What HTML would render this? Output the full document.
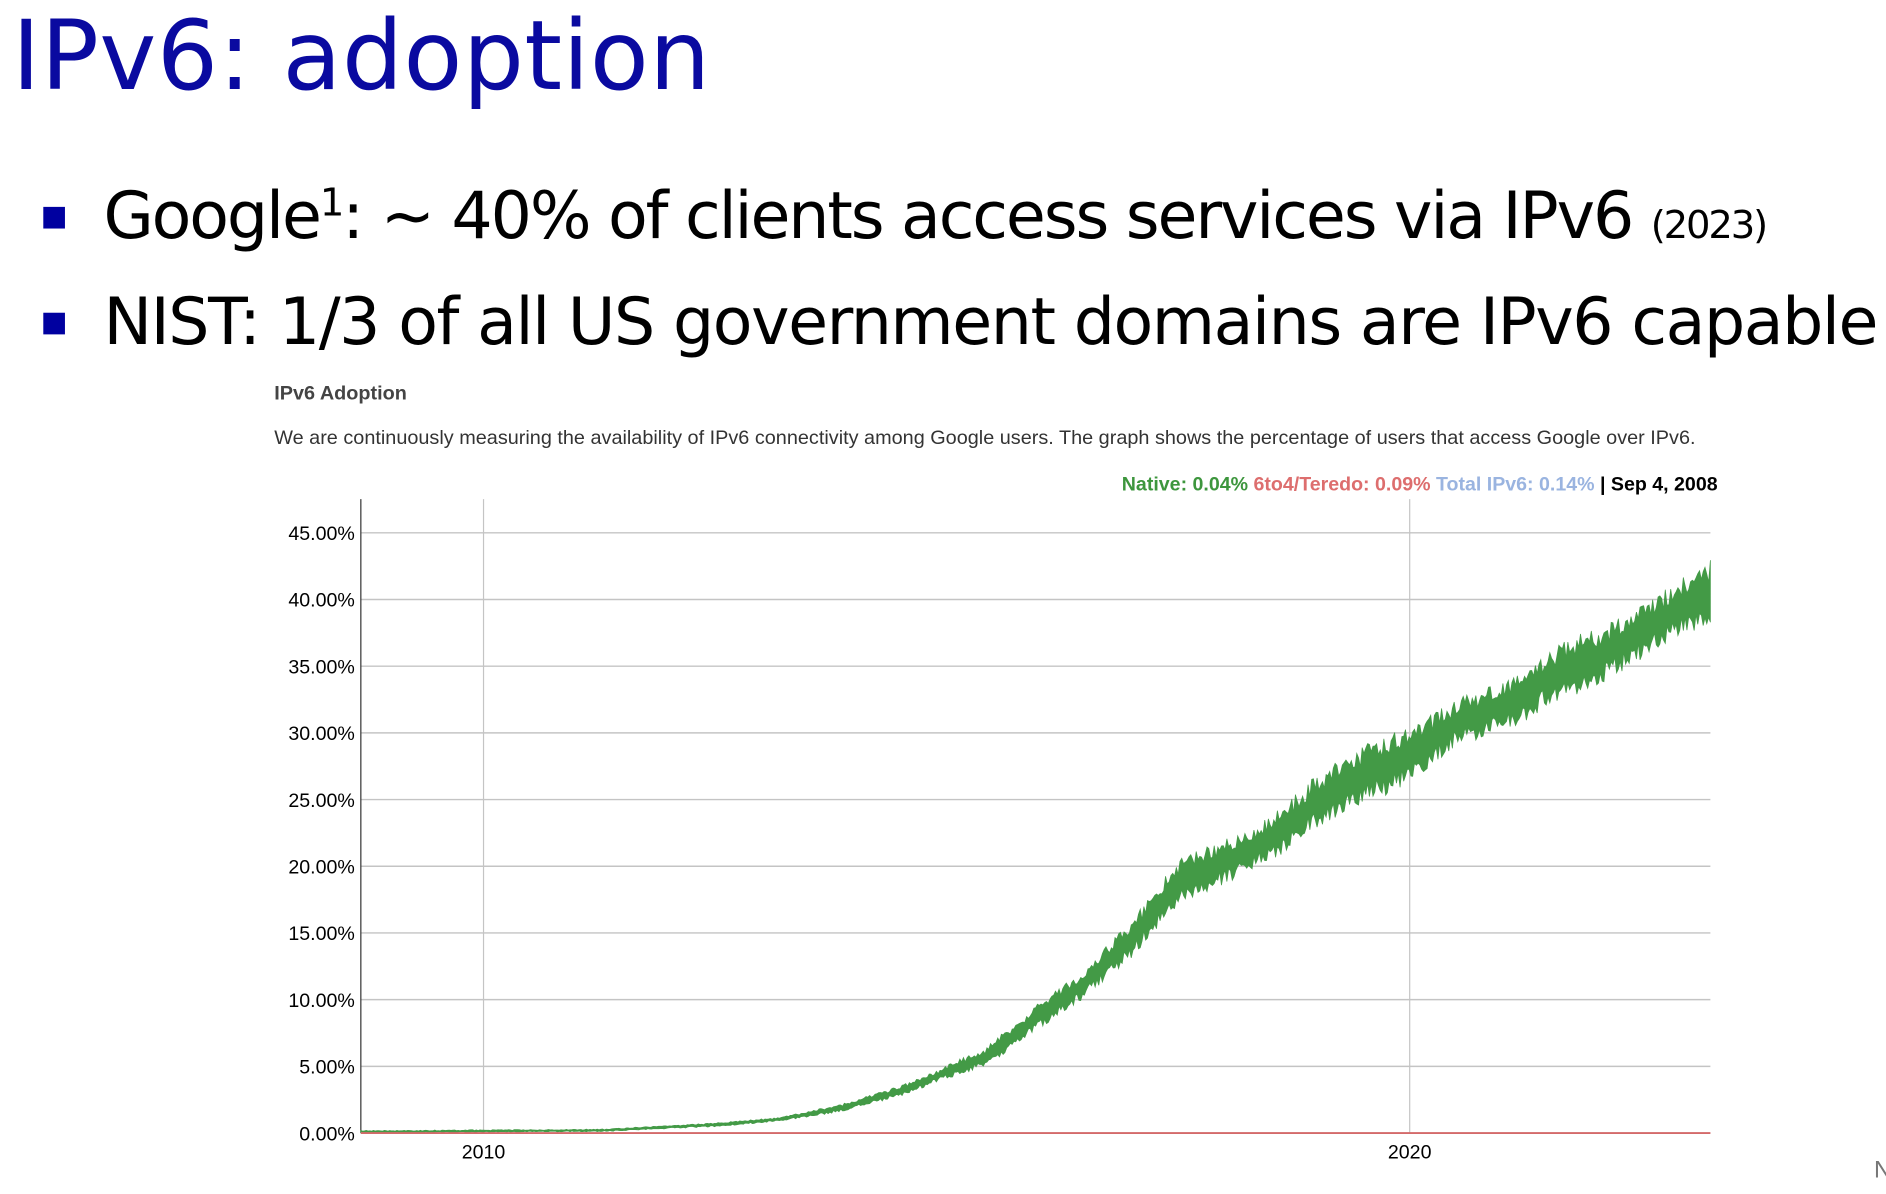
<!DOCTYPE html>
<html><head><meta charset="utf-8"><style>
html,body{margin:0;padding:0;background:#fff;overflow:hidden;width:1886px;height:1194px}
#w{position:absolute;left:0;top:0;width:1568px;height:993px;transform:scale(1.20281);transform-origin:0 0;font-family:"Liberation Sans",sans-serif}
.t{position:absolute;white-space:nowrap}
.sq{position:absolute;width:18px;height:18px;background:#0000a0}
</style></head><body><div id="w">
<div class="t" style="left:10px;top:0px;font-size:80px;color:#0a0aa0;font-family:'DejaVu Sans',sans-serif;letter-spacing:0.4px">IPv6: adoption</div>
<div class="sq" style="left:36px;top:172px"></div>
<div class="t" style="left:86px;top:148px;font-size:54px;font-family:'DejaVu Sans',sans-serif;letter-spacing:-1.75px">Google<sup style="font-size:32px">1</sup>: ~ 40% of clients access services via IPv6 <span style="font-size:32px">(2023)</span></div>
<div class="sq" style="left:36px;top:260px"></div>
<div class="t" style="left:86px;top:236px;font-size:54px;font-family:'DejaVu Sans',sans-serif;letter-spacing:-1.2px">NIST: 1/3 of all US government domains are IPv6 capable</div>
<div class="t" style="left:228px;top:318px;font-size:16.5px;font-weight:bold;color:#444">IPv6 Adoption</div>
<div class="t" style="left:228px;top:355px;font-size:16.5px;color:#333">We are continuously measuring the availability of IPv6 connectivity among Google users. The graph shows the percentage of users that access Google over IPv6.</div>
<div class="t" style="right:140px;top:394px;font-size:16.3px;font-weight:bold"><span style="color:#3d963d">Native: 0.04%</span> <span style="color:#dd6e6e">6to4/Teredo: 0.09%</span> <span style="color:#9ab4e0">Total IPv6: 0.14%</span> | Sep 4, 2008</div>
<svg id="c" width="1568" height="993" style="position:absolute;left:0;top:0" font-family="Liberation Sans, sans-serif" font-size="16.3"></svg>
<div class="t" style="left:1558px;top:962px;font-size:20px;color:#777">N</div>
</div>
<script>
var s=document.getElementById('c'),h='';
function Y(p){return 942-p*11.09;}
for(var i=0;i<=9;i++){var y=Y(i*5);h+='<line x1="300" x2="1422" y1="'+y+'" y2="'+y+'" stroke="#c4c4c4" stroke-width="1.2"/>';
h+='<text x="295" y="'+(y+6)+'" text-anchor="end">'+(i*5)+'.00%</text>';}
h+='<line x1="402" x2="402" y1="415" y2="942" stroke="#c4c4c4"/><line x1="1172" x2="1172" y1="415" y2="942" stroke="#c4c4c4"/>';
h+='<line x1="300" x2="300" y1="415" y2="942" stroke="#333"/>';
h+='<text x="402" y="963" text-anchor="middle">2010</text><text x="1172" y="963" text-anchor="middle">2020</text>';
var d=[[300,.2,0],[500,.3,.1],[600,.8,.5],[650,1.2,.9],[700,2.2,1.6],[750,3.6,2.8],[785,5,4],[820,6.5,5],[860,9.5,7.5],[900,12.2,10],[940,16,13],[980,20.5,17],[1015,22,18.5],[1060,24,20.5],[1090,26.5,22.5],[1130,29,24.5],[1172,30.5,26],[1210,32.5,29],[1250,34,30],[1290,36.5,32],[1340,38.5,34],[1380,40.5,36.5],[1422,43,38]];
function it(x,k){for(var j=0;j<d.length-1;j++)if(x<=d[j+1][0]){var f=(x-d[j][0])/(d[j+1][0]-d[j][0]);return d[j][k]+f*(d[j+1][k]-d[j][k]);}return d[d.length-1][k];}
var up=[],lo=[],r=1;function rnd(){r=(r*16807)%2147483647;return r/2147483647;}
for(var x=300;x<=1422;x+=1.5){var a=it(x,1),b=it(x,2),m=(a-b);up.push(x+','+Y(a-m*0.35*rnd()));lo.unshift(x+','+Y(b+m*0.35*rnd()));}
h+='<polygon points="'+up.join(' ')+' '+lo.join(' ')+'" fill="#439a46" stroke="#439a46" stroke-width="0.6"/>';
h+='<line x1="300" x2="1422" y1="942" y2="942" stroke="#d46a6a" stroke-width="1.5"/>';
s.innerHTML=h;
</script>
</body></html>
